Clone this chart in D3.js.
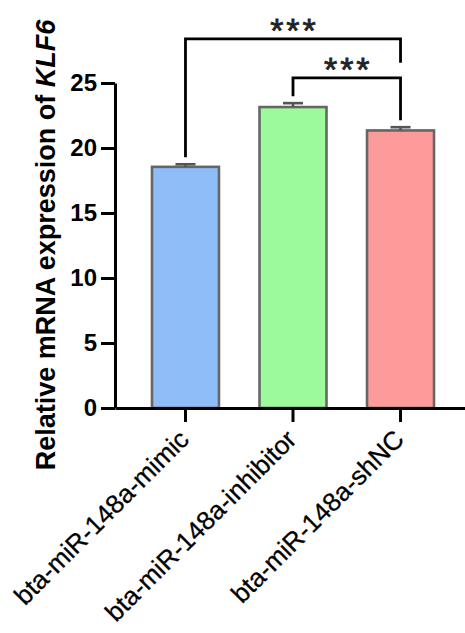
<!DOCTYPE html>
<html>
<head>
<meta charset="utf-8">
<script src="https://cdn.jsdelivr.net/npm/d3@7"></script>
<style>
  body { margin: 0; background: #fff; }
  svg text { font-family: "Liberation Sans", Arial, sans-serif; }
</style>
</head>
<body>
<div id="chart"></div>
<script>
const categories = ['bta-miR-148a-mimic', 'bta-miR-148a-inhibitor', 'bta-miR-148a-shNC'];
const means = [18.55, 23.15, 21.35];
const errors = [0.2, 0.3, 0.25];
const fills = ['#8fbdf7', '#9dfa9b', '#fd9b9b'];
const yTicks = [0, 5, 10, 15, 20, 25];
// pairs of category indices compared, with their label
const comparisons = [[0, 2], [1, 2]];
const sigLabels = ['***', '***'];

const width = 465, height = 633;
const svg = d3.select('#chart').append('svg')
  .attr('width', width)
  .attr('height', height);

const x = d3.scaleBand()
  .domain(categories)
  .range([115, 471])
  .paddingInner(0.377)
  .paddingOuter(0.344);
const y = d3.scaleLinear()
  .domain([0, 25])
  .range([408, 83]);

const data = categories.map((c, i) => ({ name: c, mean: means[i], err: errors[i], fill: fills[i] }));

// bars
svg.append('g')
  .selectAll('rect')
  .data(data)
  .join('rect')
  .attr('x', d => x(d.name))
  .attr('y', d => y(d.mean))
  .attr('width', x.bandwidth())
  .attr('height', d => y(0) - y(d.mean))
  .attr('fill', d => d.fill)
  .attr('stroke', '#666')
  .attr('stroke-width', 2.6);

// error bars (upper only)
const errG = svg.append('g')
  .attr('stroke', '#555')
  .attr('stroke-width', 2.6);
errG.selectAll('.stem')
  .data(data)
  .join('line')
  .attr('x1', d => x(d.name) + x.bandwidth() / 2)
  .attr('x2', d => x(d.name) + x.bandwidth() / 2)
  .attr('y1', d => y(d.mean))
  .attr('y2', d => y(d.mean + d.err));
errG.selectAll('.cap')
  .data(data)
  .join('line')
  .attr('x1', d => x(d.name) + x.bandwidth() / 2 - 10)
  .attr('x2', d => x(d.name) + x.bandwidth() / 2 + 10)
  .attr('y1', d => y(d.mean + d.err))
  .attr('y2', d => y(d.mean + d.err));

// y axis
const yAxis = svg.append('g')
  .attr('transform', `translate(${x.range()[0]},0)`)
  .call(d3.axisLeft(y).tickValues(yTicks).tickSize(14).tickSizeOuter(0).tickPadding(4));
yAxis.select('.domain').attr('stroke-width', 3);
yAxis.selectAll('.tick line').attr('stroke-width', 3);
yAxis.selectAll('.tick text')
  .attr('font-family', '"Liberation Sans", Arial, sans-serif')
  .attr('font-weight', 'bold')
  .attr('font-size', 24)
  .attr('fill', '#000');

// x axis
const xAxis = svg.append('g')
  .attr('transform', `translate(0,${y(0)})`)
  .call(d3.axisBottom(x).tickSize(14).tickSizeOuter(0));
xAxis.select('.domain').attr('stroke-width', 3);
xAxis.selectAll('.tick line').attr('stroke-width', 3);
xAxis.selectAll('.tick text')
  .attr('font-family', '"Liberation Sans", Arial, sans-serif')
  .attr('font-size', 26)
  .attr('fill', '#000')
  .attr('stroke', '#000')
  .attr('stroke-width', 0.3)
  .attr('text-anchor', 'end')
  .attr('dy', 0)
  .attr('transform', 'translate(5,33) rotate(-45)')
  .attr('y', 0);

// y axis title
const title = svg.append('text')
  .attr('transform', 'translate(55,245) rotate(-90)')
  .attr('text-anchor', 'middle')
  .attr('font-weight', 'bold')
  .attr('font-size', 27)
  .attr('fill', '#000');
title.append('tspan').text('Relative mRNA expression of ');
title.append('tspan').attr('font-style', 'italic').text('KLF6');

// significance brackets
const bracketTops = [28.4, 25.4];
const cx = i => x(categories[i]) + x.bandwidth() / 2;
const brG = svg.append('g');
comparisons.forEach(([a, b], k) => {
  const top = y(bracketTops[k]);
  const la = y(means[a] + errors[a]) - 7;
  const lb = y(means[b] + errors[b]) - 7;
  const lbEnd = k === 0 ? top + 24 : lb;
  brG.append('path')
    .attr('d', `M${cx(a)},${la}V${top}H${cx(b)}V${lbEnd}`)
    .attr('fill', 'none')
    .attr('stroke', '#000')
    .attr('stroke-width', 2.8);
  brG.append('text')
    .attr('x', (cx(a) + cx(b)) / 2 + 1.5)
    .attr('y', top + 3)
    .attr('text-anchor', 'middle')
    .attr('font-size', 34)
    .attr('letter-spacing', 3)
    .attr('fill', '#222')
    .attr('stroke', '#222')
    .attr('stroke-width', 0.8)
    .text(sigLabels[k]);
});
</script>
</body>
</html>
